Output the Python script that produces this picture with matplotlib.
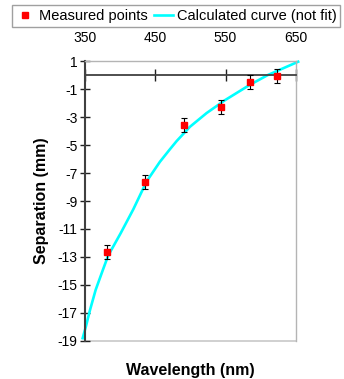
import matplotlib
matplotlib.use("Agg")
import matplotlib.pyplot as plt

# Measured points
wl_meas = [382, 435, 491, 544, 585, 623]
sep_meas = [-12.66, -7.62, -3.57, -2.26, -0.50, -0.04]
sep_err = [0.5, 0.5, 0.5, 0.5, 0.5, 0.5]

# Calculated curve
curve_wl = [346.7, 351.4, 357.1, 365.2, 376.0, 383.0, 400.8, 418.7, 437.7,
            456.6, 470.9, 480.4, 499.3, 523.0, 549.1, 584.6, 610.2, 653.3]
curve_sep = [-18.8, -17.95, -16.8, -15.35, -13.85, -12.9, -11.3, -9.6, -7.6,
             -6.2, -5.3, -4.72, -3.7, -2.72, -1.8, -0.7, 0.0, 0.95]

x_ticks = [350, 450, 550, 650]
y_ticks = [1, -1, -3, -5, -7, -9, -11, -13, -15, -17, -19]

plt.rcParams["font.family"] = ["Liberation Sans", "DejaVu Sans"]
plt.rcParams["axes.unicode_minus"] = False

fig = plt.figure(figsize=(3.44, 3.79), dpi=100)
ax = fig.add_axes([0.247, 0.1003, 0.613, 0.7387])

ax.plot(curve_wl, curve_sep, color="#00ffff", linewidth=1.9, clip_on=False,
        zorder=2, label="Calculated curve (not fit)")
ax.errorbar(wl_meas, sep_meas, yerr=sep_err, fmt="none", ecolor="black",
            elinewidth=0.8, capsize=2.5, capthick=0.8, zorder=3)
ax.plot(wl_meas, sep_meas, linestyle="none", marker="s", markersize=5,
        color="red", zorder=4, label="Measured points")

ax.set_xlim(350, 650)
ax.set_ylim(-19, 1)
ax.set_xticks(x_ticks)
ax.set_yticks(y_ticks)
ax.set_yticklabels([str(v) for v in y_ticks])

# x axis line at zero, labels on top
ax.spines["bottom"].set_position(("data", 0))
ax.spines["bottom"].set_color("#404040")
ax.spines["bottom"].set_linewidth(1.3)
ax.spines["left"].set_color("#404040")
ax.spines["left"].set_linewidth(1.5)
for s in ["top", "right"]:
    ax.spines[s].set_color("#b4b4b4")
    ax.spines[s].set_linewidth(1.0)
ax.axhline(-19, color="#c8c8c8", linewidth=1.2, clip_on=False, zorder=1)

ax.tick_params(axis="x", bottom=True, top=False, labelbottom=False, labeltop=True,
               direction="inout", length=8, width=1.0, color="#202020",
               labelsize=10, pad=7.5)
ax.tick_params(axis="y", direction="inout", length=7, width=1.0, color="#202020",
               labelsize=10, pad=2)

ax.set_xlabel("Wavelength (nm)", fontsize=11.5, fontweight="bold")
ax.xaxis.set_label_coords(0.5, -0.077)
ax.set_ylabel("Separation (mm)", fontsize=11.5, fontweight="bold", labelpad=6)

h, l = ax.get_legend_handles_labels()
leg = fig.legend(h[::-1], l[::-1], loc="center", bbox_to_anchor=(0.512, 0.958),
                 ncol=2, fontsize=10.5, frameon=True, fancybox=False,
                 edgecolor="#a0a0a0", framealpha=1, handlelength=1.3,
                 handletextpad=0.3, columnspacing=0.4, borderpad=0.25,
                 markerscale=0.8)
leg.get_frame().set_linewidth(1.0)

fig.savefig("out.png", dpi=100)
plt.close("all")
